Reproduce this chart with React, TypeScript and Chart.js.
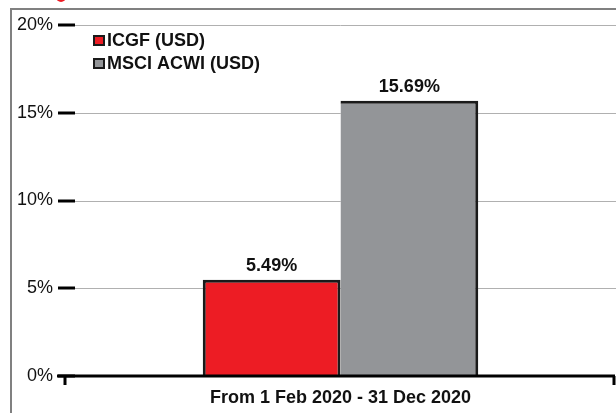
import React, { useEffect, useRef } from "react";
import { Chart, registerables } from "chart.js";

Chart.register(...registerables);

const categories = ["From 1 Feb 2020 - 31 Dec 2020"];
const seriesNames = ["ICGF (USD)", "MSCI ACWI (USD)"];
const icgfValues = [5.49];
const msciValues = [15.69];
const seriesColors = ["#ED1C24", "#939598"];
const yTicks = [0, 5, 10, 15, 20];

const FONT = '"Liberation Sans", Arial, sans-serif';

const decor = {
  id: "decor",
  beforeDraw(chart: any) {
    const ctx = chart.ctx;
    const W = chart.width;
    const H = chart.height;
    ctx.save();
    ctx.fillStyle = "#ffffff";
    ctx.fillRect(0, 0, W, H);
    // frame
    ctx.strokeStyle = "#808080";
    ctx.lineWidth = 2;
    ctx.beginPath();
    ctx.moveTo(11, H);
    ctx.lineTo(11, 9);
    ctx.lineTo(W, 9);
    ctx.stroke();
    // cut-off red mark at top
    ctx.fillStyle = "#ED1C24";
    ctx.beginPath();
    ctx.arc(61, -3, 5, 0, Math.PI * 2);
    ctx.fill();
    // gridlines
    const ys = chart.scales.y;
    const left = chart.chartArea.left;
    ctx.strokeStyle = "#b0b0b0";
    ctx.lineWidth = 1;
    yTicks.forEach((v) => {
      if (v === 0) return;
      const py = Math.round(ys.getPixelForValue(v)) + 0.5;
      ctx.beginPath();
      ctx.moveTo(left, py);
      ctx.lineTo(W, py);
      ctx.stroke();
    });
    ctx.restore();
  },
  afterDatasetsDraw(chart: any) {
    const ctx = chart.ctx;
    const ys = chart.scales.y;
    const { left, bottom } = chart.chartArea;
    ctx.save();
    // y tick marks
    ctx.strokeStyle = "#000";
    ctx.lineWidth = 3;
    yTicks.forEach((v) => {
      const py = Math.round(ys.getPixelForValue(v));
      ctx.beginPath();
      ctx.moveTo(58, py);
      ctx.lineTo(75, py);
      ctx.stroke();
    });
    // x axis line
    const ay = Math.round(ys.getPixelForValue(0));
    ctx.beginPath();
    ctx.moveTo(57, ay);
    ctx.lineTo(615, ay);
    ctx.stroke();
    // category edge ticks
    ctx.beginPath();
    ctx.moveTo(left, ay);
    ctx.lineTo(left, ay + 9);
    ctx.moveTo(614, ay);
    ctx.lineTo(614, ay + 9);
    ctx.stroke();
    // value labels
    ctx.fillStyle = "#111";
    ctx.font = `bold 18px ${FONT}`;
    ctx.textAlign = "center";
    ctx.textBaseline = "alphabetic";
    chart.data.datasets.forEach((ds: any, i: number) => {
      const meta = chart.getDatasetMeta(i);
      meta.data.forEach((el: any, j: number) => {
        const v = ds.data[j];
        ctx.fillText(v.toFixed(2) + "%", el.x, el.y - 9);
      });
    });
    // legend
    ctx.textAlign = "left";
    ctx.textBaseline = "middle";
    chart.data.datasets.forEach((ds: any, i: number) => {
      const by = 35 + i * 23;
      ctx.fillStyle = "#1a1a1a";
      ctx.fillRect(93, by, 12, 11);
      ctx.fillStyle = ds.backgroundColor;
      ctx.fillRect(95, by + 2, 8, 7);
      ctx.fillStyle = "#111";
      ctx.fillText(ds.label, 107, by + 6);
    });
    ctx.restore();
  },
};

export default function App() {
  const ref = useRef<HTMLCanvasElement>(null);
  useEffect(() => {
    if (!ref.current) return;
    const chart = new Chart(ref.current, {
      type: "bar",
      data: {
        labels: categories,
        datasets: [
          {
            label: seriesNames[0],
            data: icgfValues,
            backgroundColor: seriesColors[0],
            borderColor: "#1a1a1a",
            borderWidth: { left: 3, top: 3, right: 3, bottom: 0 },
            borderSkipped: false,
            categoryPercentage: 0.5,
            barPercentage: 1,
          },
          {
            label: seriesNames[1],
            data: msciValues,
            backgroundColor: seriesColors[1],
            borderColor: "#1a1a1a",
            borderWidth: { left: 0, top: 3, right: 3, bottom: 0 },
            borderSkipped: false,
            categoryPercentage: 0.5,
            barPercentage: 1,
          },
        ] as any,
      },
      options: {
        responsive: false,
        animation: false,
        layout: { padding: { top: 25, left: 0, right: 0, bottom: 0 } },
        plugins: { legend: { display: false }, tooltip: { enabled: false } },
        scales: {
          x: {
            grid: { display: false, drawTicks: false },
            border: { display: false },
            ticks: {
              padding: 11,
              color: "#111",
              font: { family: FONT, size: 18, weight: "bold" },
            },
            afterFit: (s: any) => {
              s.height = 37;
            },
          },
          y: {
            min: 0,
            max: 20,
            grid: { display: false, drawTicks: false },
            border: { display: false },
            ticks: {
              stepSize: 5,
              padding: 12,
              color: "#111",
              font: { family: FONT, size: 18 },
              callback: (v: any) => v + "%",
            },
            afterFit: (s: any) => {
              s.width = 65;
            },
          },
        },
      } as any,
      plugins: [decor],
    });
    return () => chart.destroy();
  }, []);
  return (
    <canvas
      ref={ref}
      width={616}
      height={413}
      style={{ position: "fixed", left: 0, top: 0, display: "block" }}
    />
  );
}
